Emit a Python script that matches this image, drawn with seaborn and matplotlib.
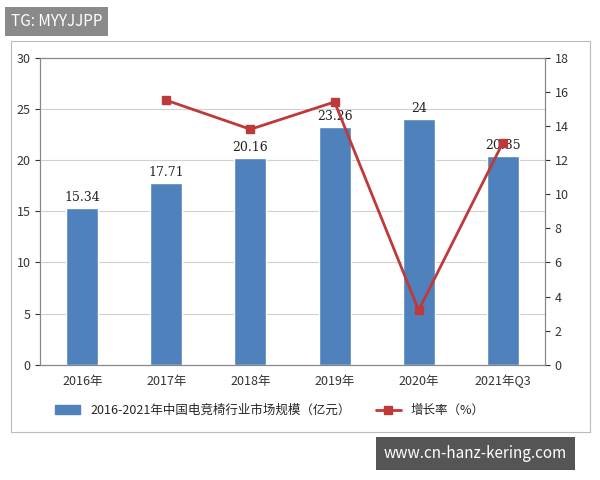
import matplotlib
matplotlib.use("Agg")
import matplotlib.pyplot as plt
import seaborn as sns
import pandas as pd
from matplotlib.patches import Rectangle, Patch
from matplotlib.lines import Line2D

years = ["2016年", "2017年", "2018年", "2019年", "2020年", "2021年Q3"]
market = [15.34, 17.71, 20.16, 23.26, 24, 20.35]
market_labels = ["15.34", "17.71", "20.16", "23.26", "24", "20.35"]
growth = [None, 15.5, 13.8, 15.4, 3.2, 13.0]

sns.set_style("white")
plt.rcParams['font.family'] = ['Noto Sans CJK SC', 'DejaVu Sans']

df = pd.DataFrame({"year": years, "market": market, "growth": growth})

fig = plt.figure(figsize=(6, 4.8), dpi=100)
fig.patches.append(Rectangle((0.018, 0.1), 0.965, 0.815, transform=fig.transFigure,
                             fill=False, edgecolor="#bbbbbb", lw=0.8))
ax = fig.add_axes([0.067, 0.24, 0.841, 0.64])
sns.barplot(data=df, x="year", y="market", color="#4F81BD", saturation=1, width=0.38, ax=ax)
ax.set_ylim(0, 30)
ax.set_yticks(range(0, 31, 5))
ax.yaxis.grid(True, color="#d0d0d0", lw=0.8)
ax.set_axisbelow(True)
ax.set_xlabel("")
ax.set_ylabel("")
for i, t in enumerate(market_labels):
    ax.text(i, market[i] + 0.4, t, ha="center", va="bottom", fontsize=9, family="DejaVu Serif", color="#222222")
ax.tick_params(labelsize=9, colors="#333333")

ax2 = ax.twinx()
ax2.plot(range(len(years)), df["growth"], color="#BE3A3A", lw=2, marker="s", markersize=6)
ax2.set_ylim(0, 18)
ax2.set_yticks(range(0, 19, 2))
ax2.tick_params(labelsize=9, colors="#333333")
ax2.set_xlim(-0.5, len(years) - 0.5)
for a in (ax, ax2):
    for s in a.spines.values():
        s.set_color("#888888")
        s.set_linewidth(0.8)

handles = [Patch(color="#4F81BD"), Line2D([], [], color="#BE3A3A", lw=2, marker="s")]
fig.legend(handles, ["2016-2021年中国电竞椅行业市场规模（亿元）", "增长率（%）"], loc="center",
           bbox_to_anchor=(0.45, 0.145), ncol=2, frameon=False, fontsize=9)

fig.text(0.018, 0.955, "TG: MYYJJPP", fontsize=11, color="white", va="center",
         bbox=dict(boxstyle="square,pad=0.4", fc="#8a8a8a", ec="none"))
fig.text(0.64, 0.055, "www.cn-hanz-kering.com", fontsize=11, color="white", va="center",
         bbox=dict(boxstyle="square,pad=0.5", fc="#555555", ec="none"))

fig.savefig("out.png", dpi=100)
